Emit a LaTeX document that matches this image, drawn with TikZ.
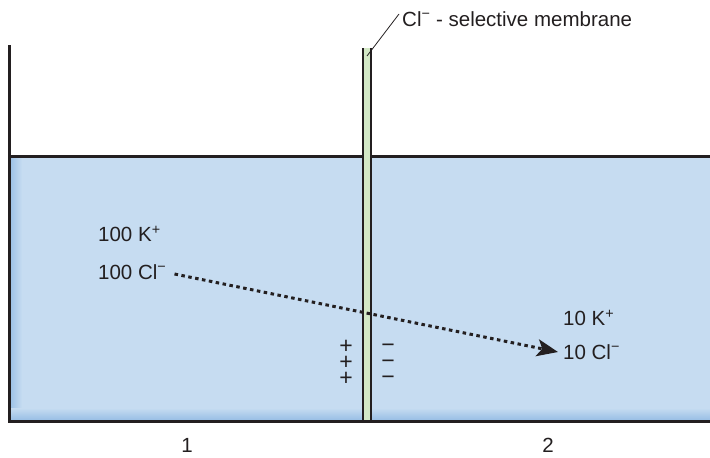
\documentclass[tikz,border=0pt]{standalone}
\usepackage{fontspec}
\setmainfont{Liberation Sans}
\usetikzlibrary{arrows.meta}
\definecolor{water}{HTML}{C6DCF1}
\definecolor{wateredge}{HTML}{9CC1E6}
\definecolor{memb}{HTML}{D3E8C6}
\definecolor{ink}{HTML}{231F20}
\tikzset{
  lbl/.style={inner sep=0pt, anchor=west, font=\fontsize{20.5}{24}\selectfont, text=ink},
  wall/.style={draw=ink, line width=3pt},
  sign/.style={inner sep=0pt, font=\fontsize{20.5}{24}\selectfont, text=ink},
  chg/.style={inner sep=0pt, align=center, font=\fontsize{23}{16}\selectfont, text=ink},
}
\newcommand{\supm}{\textsuperscript{\char"2212}}
\newcommand{\supp}{\textsuperscript{+}}
\begin{document}
\begin{tikzpicture}[x=1pt,y=-1pt]
\useasboundingbox (0,0) rectangle (710,458);
% water
\fill[water] (10,157) rectangle (710,419);
\shade[left color=wateredge, right color=water] (10,157) rectangle (22,419);
\shade[top color=water, bottom color=wateredge] (10,408) rectangle (710,419);
% container
\draw[wall] (9,45) -- (9,421) -- (710,421);
\draw[wall] (9,156) -- (362,156);
\draw[wall] (372,156) -- (710,156);
% membrane
\fill[memb] (363,48) rectangle (371,420);
\draw[draw=ink, line width=2.2pt] (363,48) -- (363,421);
\draw[draw=ink, line width=2.2pt] (371,48) -- (371,421);
\coordinate (mtop) at (367,56);
\node[lbl] (mlab) at (402,19) {Cl\supm{} - selective membrane};
\draw[ink, line width=0.8pt] (mtop) -- ([xshift=-3pt,yshift=5pt]mlab.west);
% ions
\node[lbl] (k1) at (98,234) {100 K\supp};
\node[lbl] (c1) at (98,272) {100 Cl\supm};
\node[lbl] (k2) at (563,318) {10 K\supp};
\node[lbl] (c2) at (563,352) {10 Cl\supm};
\draw[ink, line width=3pt, dash pattern=on 3.5pt off 3.5pt,
  -{Stealth[length=21pt,width=17pt,inset=5pt]}] ([xshift=8pt,yshift=-2pt]c1.east) -- ([xshift=-5pt]c2.west);
% charges
\node[chg] (plus) at (346,363) {+\\+\\+};
\node[chg] (minus) at (388,364) {\char"2212\\\char"2212\\\char"2212};
% compartments
\node[sign] (n1) at (187,445) {1};
\node[sign] (n2) at (548,445) {2};
\end{tikzpicture}
\end{document}
